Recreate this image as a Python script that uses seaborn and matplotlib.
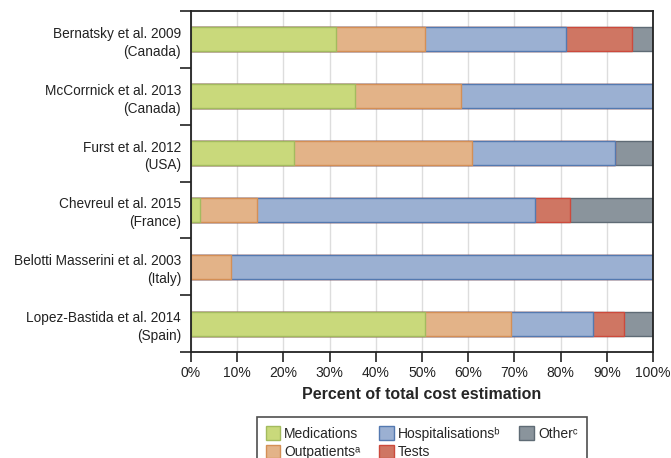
import numpy as np
import pandas as pd
import matplotlib
matplotlib.use('Agg')
import matplotlib.pyplot as plt
from matplotlib.patches import Patch
import seaborn as sns

studies = ['Bernatsky et al. 2009\n(Canada)',
           'McCorrnick et al. 2013\n(Canada)',
           'Furst et al. 2012\n(USA)',
           'Chevreul et al. 2015\n(France)',
           'Belotti Masserini et al. 2003\n(Italy)',
           'Lopez-Bastida et al. 2014\n(Spain)']

medications = [31.3, 35.4, 22.3, 1.9, 0.0, 50.6]
outpatients = [19.3, 23.0, 38.6, 12.4, 8.6, 18.7]
hospitalisations = [30.5, 41.6, 30.9, 60.1, 91.4, 17.8]
tests = [14.4, 0.0, 0.0, 7.7, 0.0, 6.6]
other = [4.5, 0.0, 8.2, 17.9, 0.0, 6.3]

categories = ['Medications', 'Outpatients', 'Hospitalisations', 'Tests', 'Other']
legend_labels = ['Medications', 'Outpatients\u1d43', 'Hospitalisations\u1d47',
                 'Tests', 'Other\u1d9c']
fills = ['#c9d97b', '#e3b388', '#9bb0d2', '#cf7663', '#8a949c']
edges = ['#a3bb5e', '#d48f55', '#5479b0', '#cc4a3c', '#5f6b75']

sns.set_style('white')
plt.rcParams['font.family'] = ['Liberation Sans', 'DejaVu Sans']

df = pd.DataFrame({'study': studies,
                   'Medications': medications,
                   'Outpatients': outpatients,
                   'Hospitalisations': hospitalisations,
                   'Tests': tests,
                   'Other': other})
cum = df[categories].cumsum(axis=1)

fig = plt.figure(figsize=(6.71, 4.58), dpi=100)
ax = fig.add_axes([0.2846, 0.2314, 0.6886, 0.7446])

# stacked bars: draw cumulative totals from the outermost layer inward
for i in reversed(range(len(categories))):
    sns.barplot(x=cum[categories[i]], y=df['study'], orient='h', ax=ax,
                color=fills[i], edgecolor=edges[i], linewidth=1.0,
                width=0.42, saturation=1, zorder=2)
for p in ax.patches:
    if p.get_width() == 0:
        p.set_visible(False)

ax.set_xlim(0, 100)
ax.set_ylim(5.5, -0.5)
ax.set_xticks(np.arange(0, 101, 10))
ax.set_xticklabels([f'{v}%' for v in range(0, 101, 10)], fontsize=10, color='#222222')
ax.set_yticks(np.arange(len(studies)))
ax.set_yticklabels(studies, fontsize=9.8, color='#222222', linespacing=1.35)
ax.set_yticks(np.arange(-0.5, len(studies), 1.0), minor=True)
ax.tick_params(axis='y', which='major', left=False, length=0, pad=7)
ax.tick_params(axis='y', which='minor', left=True, length=8, width=1.2,
               color='#222222', direction='out')
ax.tick_params(axis='x', which='major', bottom=True, length=7, width=1.2,
               color='#222222', direction='out', pad=3)
ax.xaxis.grid(True, color='#dddddd', linewidth=1.0, zorder=0)
ax.set_axisbelow(True)
for s in ax.spines.values():
    s.set_visible(True)
    s.set_color('#222222')
    s.set_linewidth(1.3)
ax.set_ylabel('')
ax.set_xlabel('Percent of total cost estimation', fontsize=11.5, fontweight='bold',
              labelpad=5)

handles = [Patch(facecolor=fills[i], edgecolor=edges[i], linewidth=1.0)
           for i in range(len(categories))]
leg = fig.legend(handles, legend_labels, ncol=3, loc='upper left',
                 bbox_to_anchor=(0.372, 0.104), frameon=True, fancybox=False,
                 fontsize=10, handlelength=1.05, handleheight=1.1, handletextpad=0.3,
                 columnspacing=1.35, labelspacing=0.3, borderpad=0.65)
leg.get_frame().set_edgecolor('#222222')
leg.get_frame().set_linewidth(1.2)

fig.savefig('out.png', dpi=100)
